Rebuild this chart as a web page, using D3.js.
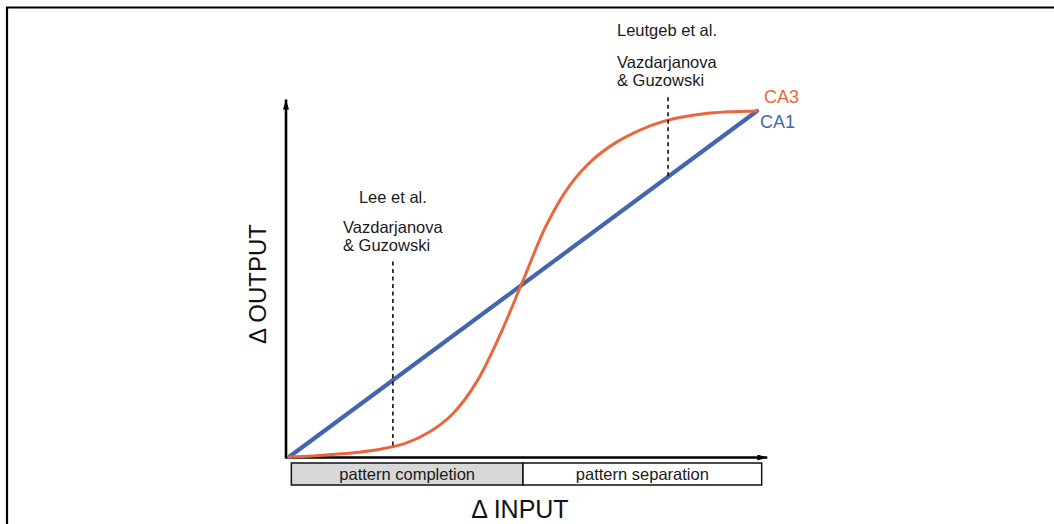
<!DOCTYPE html>
<html>
<head>
<meta charset="utf-8">
<script src="https://cdn.jsdelivr.net/npm/d3@7/dist/d3.min.js"></script>
<style>
  html, body { margin: 0; padding: 0; background: #fff; }
  svg { display: block; font-family: "Liberation Sans", Arial, sans-serif; }
</style>
</head>
<body>
<svg id="chart" width="1054" height="524"></svg>
<script>
// Change in input (normalised) and the corresponding change in output
const inputLevels = [0, 0.05, 0.1, 0.15, 0.2, 0.25, 0.3, 0.35, 0.4, 0.45, 0.5,
                     0.55, 0.6, 0.65, 0.7, 0.75, 0.8, 0.85, 0.9, 0.95, 1];
const ca3Output   = [0, 0.003, 0.008, 0.014, 0.024, 0.04, 0.072, 0.125, 0.215, 0.35, 0.51,
                     0.67, 0.785, 0.86, 0.91, 0.945, 0.97, 0.985, 0.994, 0.998, 1];
const ca1Input    = [0, 1];
const ca1Output   = [0, 1];

// Regimes along the input axis
const regimes      = ["pattern completion", "pattern separation"];
const regimeBounds = [[0.005, 0.5], [0.5, 1.01]];

// Experimental references, marked at given input levels
const studies = [
  { at: 0.222, top: 0.565, lines: ["Lee et al.", "Vazdarjanova", "& Guzowski"], curve: "CA3" },
  { at: 0.81,  top: 1.04,  lines: ["Leutgeb et al.", "Vazdarjanova", "& Guzowski"], curve: "CA1" }
];

const seriesNames = ["CA3", "CA1"];
const colors = { CA3: "#e8673c", CA1: "#4466b0" };

const svg = d3.select("#chart");

const x = d3.scaleLinear().domain([0, 1]).range([289, 757]);
const y = d3.scaleLinear().domain([0, 1]).range([457, 111]);

// Outer frame (top and left edges)
svg.append("path")
  .attr("d", `M7,524 V7.5 H1054`)
  .attr("fill", "none").attr("stroke", "#000").attr("stroke-width", 2.2);

// Arrowhead
const defs = svg.append("defs");
defs.append("marker")
  .attr("id", "arrow").attr("viewBox", "0 0 10 6")
  .attr("refX", 10).attr("refY", 3)
  .attr("markerWidth", 10).attr("markerHeight", 6)
  .attr("markerUnits", "userSpaceOnUse")
  .attr("orient", "auto")
  .append("path").attr("d", "M0,0 L10,3 L0,6 Z").attr("fill", "#000");

// Axes with arrowheads
svg.append("line")
  .attr("x1", x(0) - 3).attr("x2", x(1.022))
  .attr("y1", y(0) + 0.5).attr("y2", y(0) + 0.5)
  .attr("stroke", "#000").attr("stroke-width", 2.6)
  .attr("marker-end", "url(#arrow)");
svg.append("line")
  .attr("x1", x(0) - 3).attr("x2", x(0) - 3)
  .attr("y1", y(0) + 1.5).attr("y2", y(1.033))
  .attr("stroke", "#000").attr("stroke-width", 2.6)
  .attr("marker-end", "url(#arrow)");

// Regime boxes below the input axis
const boxTop = y(0) + 6, boxH = 22;
regimes.forEach((name, i) => {
  const [a, b] = regimeBounds[i];
  svg.append("rect")
    .attr("x", x(a)).attr("y", boxTop)
    .attr("width", x(b) - x(a)).attr("height", boxH)
    .attr("fill", i === 0 ? "#d8d8d8" : "#fff")
    .attr("stroke", "#111").attr("stroke-width", 1.5);
  svg.append("text")
    .attr("x", (x(a) + x(b)) / 2).attr("y", boxTop + 16.5)
    .attr("text-anchor", "middle")
    .attr("font-size", 16.5).attr("fill", "#1a1a1a")
    .text(name);
});

// Axis titles
svg.append("text")
  .attr("x", (x(0) + x(1)) / 2 - 3).attr("y", 518)
  .attr("text-anchor", "middle").attr("font-size", 25).attr("fill", "#111")
  .text("\u0394 INPUT");
svg.append("text")
  .attr("transform", `translate(266,${(y(0) + y(1)) / 2}) rotate(-90)`)
  .attr("text-anchor", "middle").attr("font-size", 24).attr("fill", "#111")
  .text("\u0394 OUTPUT");

// Curves
const line = d3.line().x(d => x(d[0])).y(d => y(d[1]));
const ca1Data = d3.zip(ca1Input, ca1Output);
const ca3Data = d3.zip(inputLevels, ca3Output);

svg.append("path")
  .datum(ca1Data)
  .attr("d", line)
  .attr("fill", "none").attr("stroke", colors.CA1).attr("stroke-width", 4.2)
  .attr("stroke-linecap", "round");
svg.append("path")
  .datum(ca3Data)
  .attr("d", line.curve(d3.curveCatmullRom.alpha(0.5)))
  .attr("fill", "none").attr("stroke", colors.CA3).attr("stroke-width", 3)
  .attr("stroke-linecap", "round");

// Curve labels
svg.append("text").attr("x", x(1) + 7).attr("y", y(1) - 8)
  .attr("font-size", 18).attr("fill", colors.CA3).text(seriesNames[0]);
svg.append("text").attr("x", x(1) + 3).attr("y", y(1) + 17)
  .attr("font-size", 18).attr("fill", colors.CA1).text(seriesNames[1]);

// Study markers: dashed drop lines ending on the curve they refer to
const ca3At = v => {
  const i = d3.bisector(d => d[0]).right(ca3Data, v) - 1;
  const [x0, y0] = ca3Data[i], [x1, y1] = ca3Data[i + 1];
  return y0 + (y1 - y0) * (v - x0) / (x1 - x0);
};
studies.forEach(s => {
  const bottom = s.curve === "CA3" ? ca3At(s.at) : s.at;
  svg.append("line")
    .attr("x1", x(s.at)).attr("x2", x(s.at))
    .attr("y1", y(s.top)).attr("y2", y(bottom))
    .attr("stroke", "#111").attr("stroke-width", 1.6)
    .attr("stroke-dasharray", "4,3.5");
});

// Study labels
const lee = svg.append("text").attr("font-size", 16.5).attr("fill", "#1a1a1a");
lee.append("tspan").attr("x", x(studies[0].at)).attr("y", 203).attr("text-anchor", "middle").text(studies[0].lines[0]);
lee.append("tspan").attr("x", 343).attr("y", 233).text(studies[0].lines[1]);
lee.append("tspan").attr("x", 343).attr("y", 251).text(studies[0].lines[2]);

const leu = svg.append("text").attr("font-size", 16.5).attr("fill", "#1a1a1a");
leu.append("tspan").attr("x", 617).attr("y", 36).text(studies[1].lines[0]);
leu.append("tspan").attr("x", 617).attr("y", 68).text(studies[1].lines[1]);
leu.append("tspan").attr("x", 617).attr("y", 86).text(studies[1].lines[2]);
</script>
</body>
</html>
